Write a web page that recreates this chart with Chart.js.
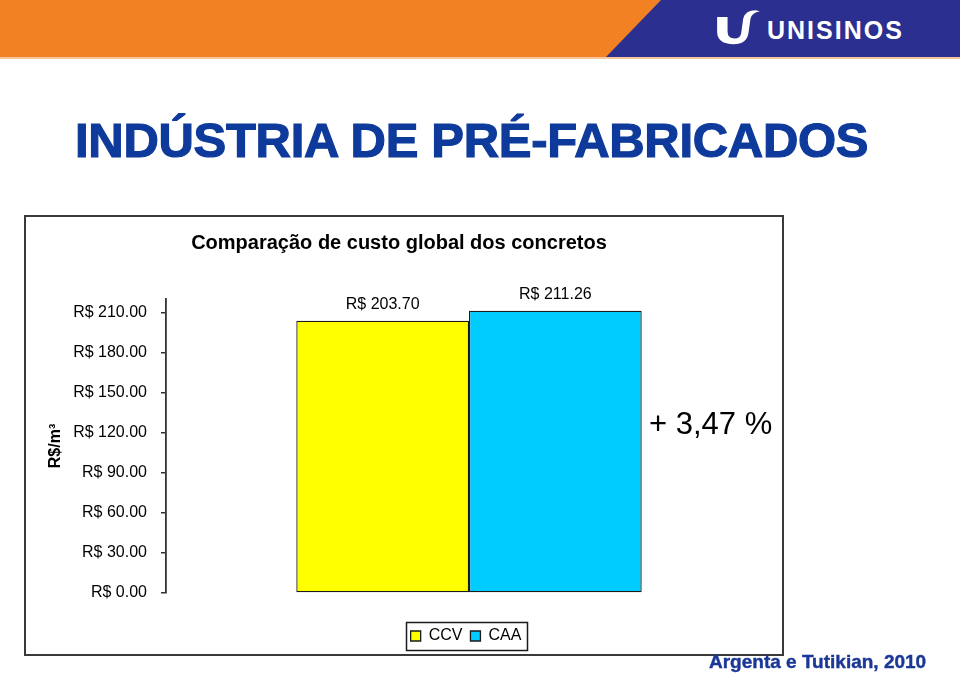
<!DOCTYPE html>
<html>
<head>
<meta charset="utf-8">
<script src="https://cdn.jsdelivr.net/npm/chart.js@4/dist/chart.umd.min.js"></script>
<style>
  html, body { margin:0; padding:0; background:#fff; }
  body { width:960px; height:676px; position:relative; overflow:hidden; font-family:"Liberation Sans", Arial, sans-serif; }
  #hdr { position:absolute; left:0; top:0; width:960px; height:57px; background:#F28123; }
  #hdrBlue { position:absolute; left:0; top:0; width:960px; height:57px; background:#2B2F8F;
             clip-path:polygon(661px 0, 960px 0, 960px 57px, 606px 57px); }
  #hdrLine { position:absolute; left:0; top:57px; width:960px; height:2px; background:#f6c79e; }
  #logoText { position:absolute; left:767px; top:16px; color:#fff; font-family:"Liberation Sans",Arial,sans-serif;
              font-weight:bold; font-size:25px; letter-spacing:2px; line-height:28px; }
  #logoIcon { position:absolute; left:714px; top:7px; }
  #mainTitle { position:absolute; left:75px; top:112px; color:#0E3A9B; font-weight:bold; font-size:49px;
               -webkit-text-stroke:1.2px #0E3A9B; white-space:nowrap; letter-spacing:-0.3px; }
  #box { position:absolute; left:24px; top:215px; width:756px; height:437px; border:2px solid #3a3a3a; }
  #chartCanvas { position:absolute; left:26px; top:217px; }
  #pct { position:absolute; left:649px; top:406px; font-size:31px; color:#000; white-space:nowrap; }
  #source { position:absolute; left:709px; top:651px; color:#1B3797; font-weight:bold; font-size:19px; white-space:nowrap;
            -webkit-text-stroke:0.4px #1B3797; }
</style>
</head>
<body>
<div id="hdr"></div>
<div id="hdrBlue"></div>
<div id="hdrLine"></div>
<svg id="logoIcon" width="48" height="38" viewBox="0 0 46 46" preserveAspectRatio="none">
  <path d="M3 12 L13 12 L13 30 Q13 38 20 38 Q25 38 26 32 L28 14 Q30 4 40 4 L44 5 Q36 7 35 14 L33 32 Q31 45 19 45 Q3 45 3 30 Z" fill="#fff"/>
</svg>
<div id="logoText">UNISINOS</div>
<div id="mainTitle">INDÚSTRIA DE PRÉ-FABRICADOS</div>
<div id="box"></div>
<canvas id="chartCanvas" width="756" height="437"></canvas>
<div id="pct">+ 3,47 %</div>
<div id="source">Argenta e Tutikian, 2010</div>
<script>
// ---- data ----
const categories = [''];
const seriesNames = ['CCV', 'CAA'];
const seriesValues = [203.70, 211.26];
const seriesColors = ['#FFFF00', '#00CCFF'];
const yTicks = [0, 30, 60, 90, 120, 150, 180, 210];
const yMax = 220;
const chartTitle = 'Comparação de custo global dos concretos';
const yTitle = 'R$/m³';

const fmt = v => 'R$ ' + v.toFixed(2);

const datasets = seriesNames.map((n, i) => ({
  label: n,
  data: [seriesValues[i]],
  backgroundColor: seriesColors[i],
  borderColor: '#1a1a1a',
  borderWidth: 1.3,
  borderSkipped: false,
  categoryPercentage: 0.57,
  barPercentage: 1.0
}));

const LEGEND_SHIFT = 67;
const helper = {
  id: 'helper',
  afterLayout(chart) {
    const lg = chart.legend;
    if (lg) { lg.left += LEGEND_SHIFT; lg.right += LEGEND_SHIFT; }
  },
  afterDatasetsDraw(chart) {
    const ctx = chart.ctx;
    ctx.save();
    ctx.font = '16px "Liberation Sans", Arial, sans-serif';
    ctx.fillStyle = '#000';
    ctx.textAlign = 'center';
    ctx.textBaseline = 'bottom';
    chart.data.datasets.forEach((ds, i) => {
      const meta = chart.getDatasetMeta(i);
      meta.data.forEach((el, j) => {
        ctx.fillText(fmt(ds.data[j]), el.x, el.y - 8);
      });
    });
    ctx.restore();
  },
  afterDraw(chart) {
    const lg = chart.legend;
    if (!lg || !lg.legendHitBoxes || !lg.legendHitBoxes.length) return;
    const hb = lg.legendHitBoxes;
    let l = Infinity, r = -Infinity, t = Infinity, b = -Infinity;
    hb.forEach(h => { l = Math.min(l, h.left); r = Math.max(r, h.left + h.width); t = Math.min(t, h.top); b = Math.max(b, h.top + h.height); });
    const ctx = chart.ctx;
    ctx.save();
    ctx.strokeStyle = '#1a1a1a';
    ctx.lineWidth = 1.5;
    ctx.strokeRect(Math.round(l - 5) + 0.5, Math.round(t - 6) + 0.5, Math.round(r - l + 10), Math.round(b - t + 12));
    ctx.restore();
  }
};

new Chart(document.getElementById('chartCanvas'), {
  type: 'bar',
  data: { labels: categories, datasets },
  options: {
    responsive: false,
    animation: false,
    devicePixelRatio: 1,
    layout: { padding: { left: 0, right: 10, top: 0, bottom: 0 } },
    plugins: {
      title: {
        display: true, text: chartTitle, color: '#000',
        font: { family: '"Liberation Sans", Arial, sans-serif', size: 20, weight: 'bold' },
        padding: { top: 14, bottom: 44 }
      },
      legend: {
        display: true, position: 'bottom',
        labels: {
          color: '#000', boxWidth: 10, boxHeight: 10, padding: 8,
          font: { family: '"Liberation Sans", Arial, sans-serif', size: 16 }
        }
      },
      tooltip: { enabled: false }
    },
    scales: {
      x: {
        display: true,
        grid: { display: false },
        border: { display: false },
        ticks: { display: false },
        afterFit(scale) { scale.height = 27; }
      },
      y: {
        min: 0, max: yMax,
        afterBuildTicks(axis) { axis.ticks = yTicks.map(v => ({ value: v })); },
        afterFit(scale) { scale.width = 140; },
        grid: { drawOnChartArea: false, drawTicks: true, tickLength: 5, color: '#333', lineWidth: 1.5 },
        border: { display: true, color: '#333', width: 1.8 },
        ticks: {
          color: '#000', padding: 14,
          font: { family: '"Liberation Sans", Arial, sans-serif', size: 16 },
          callback: v => fmt(v)
        },
        title: {
          display: true, text: yTitle, color: '#000',
          font: { family: '"Liberation Sans", Arial, sans-serif', size: 16, weight: 'bold' },
          padding: { top: 20, bottom: 0 }
        }
      }
    }
  },
  plugins: [helper]
});
</script>
</body>
</html>
